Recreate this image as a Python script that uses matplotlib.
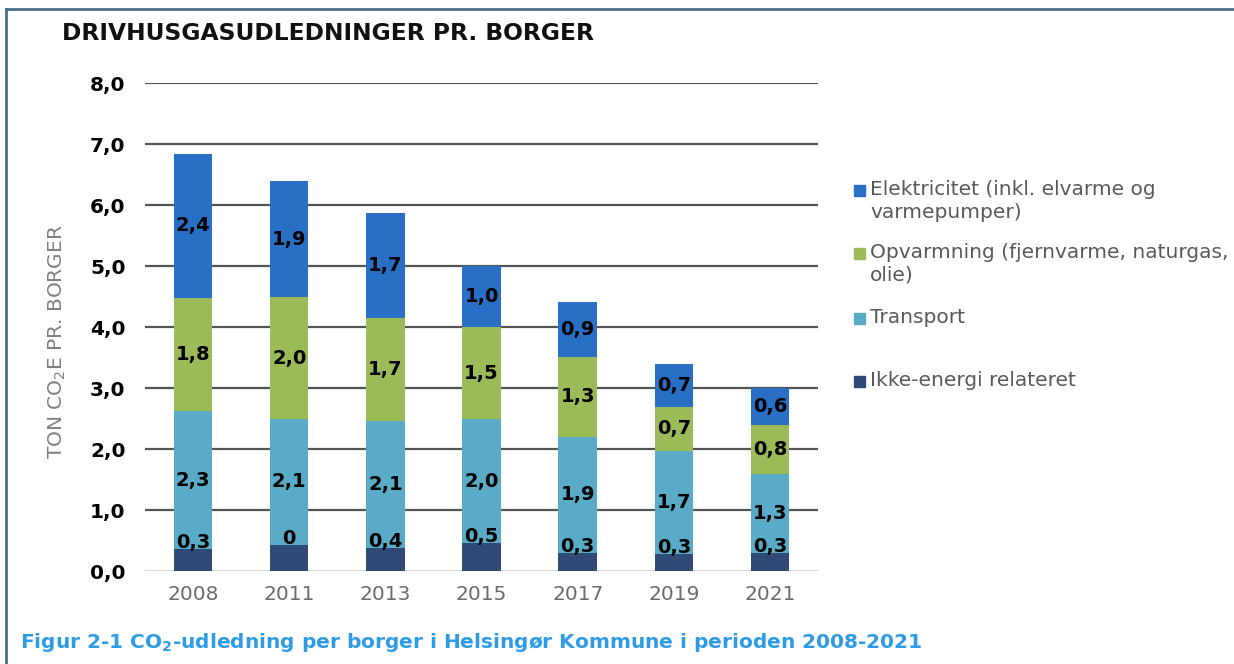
import matplotlib.pyplot as plt
from matplotlib.patches import Rectangle
import numpy as np

years = ['2008', '2011', '2013', '2015', '2017', '2019', '2021']

# segmenter (ton CO2e pr. borger)
ikke_energi = [0.36, 0.43, 0.38, 0.46, 0.30, 0.28, 0.30]
transport = [2.26, 2.06, 2.08, 2.03, 1.90, 1.69, 1.29]
opvarmning = [1.86, 2.00, 1.69, 1.51, 1.31, 0.72, 0.80]
elektricitet = [2.36, 1.90, 1.72, 1.00, 0.90, 0.70, 0.61]

# dataetiketter som vist i figuren
lbl_ikke = ['0,3', '0', '0,4', '0,5', '0,3', '0,3', '0,3']
lbl_transport = ['2,3', '2,1', '2,1', '2,0', '1,9', '1,7', '1,3']
lbl_opvarmning = ['1,8', '2,0', '1,7', '1,5', '1,3', '0,7', '0,8']
lbl_elektricitet = ['2,4', '1,9', '1,7', '1,0', '0,9', '0,7', '0,6']

series = [
    ('Ikke-energi relateret', ikke_energi, lbl_ikke, '#2f4b75'),
    ('Transport', transport, lbl_transport, '#5aabc8'),
    ('Opvarmning (fjernvarme, naturgas,\nolie)', opvarmning, lbl_opvarmning, '#9bbb59'),
    ('Elektricitet (inkl. elvarme og\nvarmepumper)', elektricitet, lbl_elektricitet, '#2a6fc6'),
]

plt.rcParams['font.family'] = ['DejaVu Sans']

fig = plt.figure(figsize=(12.34, 6.64), dpi=100)
ax = fig.add_axes([0.1175, 0.140, 0.5455, 0.735])

x = np.arange(len(years))
bottom = np.zeros(len(years))
for i, (name, vals, lbls, color) in enumerate(series):
    vals = np.array(vals)
    ax.bar(x, vals, width=0.40, bottom=bottom, color=color, zorder=3)
    for xi, b, v, t in zip(x, bottom, vals, lbls):
        if i == 0:
            ypos = b + v + 0.1
        else:
            ypos = b + v / 2
        ax.text(xi, ypos, t, ha='center', va='center', fontsize=14,
                fontweight='bold', color='black', zorder=4)
    bottom += vals

ax.set_xlim(-0.5, len(years) - 0.5)
ax.set_ylim(0, 8)
ax.set_yticks(np.arange(0, 9, 1))
ax.set_yticklabels([f'{v:.1f}'.replace('.', ',') for v in np.arange(0, 9, 1)],
                   fontsize=14.5, fontweight='bold', color='black')
ax.set_xticks(x)
ax.set_xticklabels(years, fontsize=14.5, color='#6b6b6b')
ax.tick_params(axis='y', length=0, pad=14)
ax.tick_params(axis='x', length=0, pad=10)

for v in range(1, 9):
    ax.axhline(v, color='#555555', linewidth=1.6, zorder=1)
ax.axhline(0, color='#cfcfcf', linewidth=1.2, zorder=1)
for s in ax.spines.values():
    s.set_visible(False)

ax.set_ylabel('TON CO$_2$E PR. BORGER', fontsize=14.5, color='#808080')
ax.yaxis.set_label_coords(-0.114, 0.47)

fig.text(62 / 1234, 1 - 33 / 664, 'DRIVHUSGASUDLEDNINGER PR. BORGER',
         fontsize=16.8, fontweight='bold', color='#111111', va='center', ha='left')

# legende tegnet manuelt (markør ved første linje)
leg_items = [series[3], series[2], series[1], series[0]]
leg_y = [190, 253, 318, 381]
for (name, vals, lbls, color), yy in zip(leg_items, leg_y):
    fig.add_artist(Rectangle((854 / 1234, 1 - (yy + 6) / 664), 11 / 1234, 11 / 664,
                             transform=fig.transFigure, color=color))
    fig.text(870 / 1234, 1 - (yy - 10) / 664, name, fontsize=14.5, color='#595959',
             va='top', ha='left', linespacing=1.25)

fig.text(20 / 1234, 1 - 643 / 664,
         'Figur 2-1 CO$_\\mathbf{2}$-udledning per borger i Helsingør Kommune i perioden 2008-2021',
         fontsize=14.5, fontweight='bold', color='#2e9be6', va='center', ha='left')

# ramme
fig.add_artist(plt.Line2D([6 / 1234, 1], [1 - 9 / 664, 1 - 9 / 664],
                          transform=fig.transFigure, color='#4a7089', linewidth=2))
fig.add_artist(plt.Line2D([6 / 1234, 6 / 1234], [0, 1 - 9 / 664],
                          transform=fig.transFigure, color='#4a7089', linewidth=2))

fig.savefig('out.png', dpi=100)
